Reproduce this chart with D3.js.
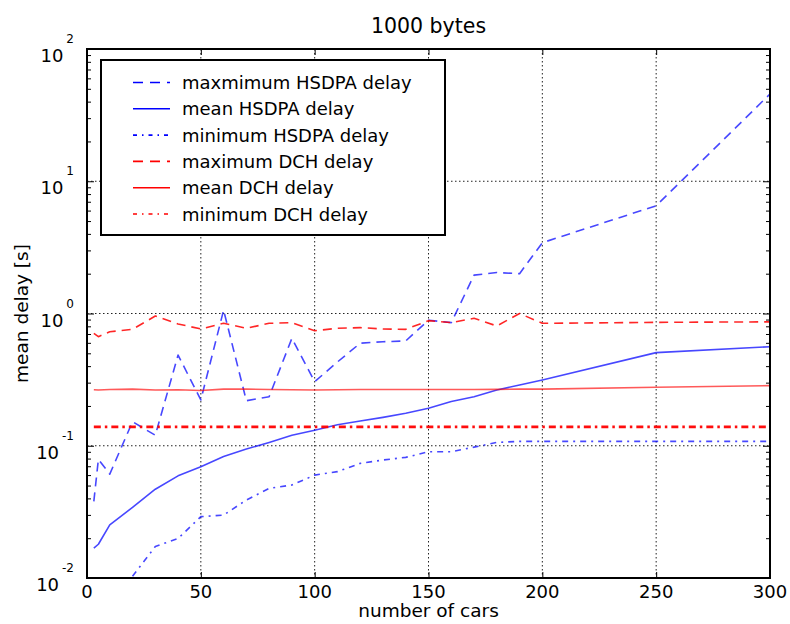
<!DOCTYPE html>
<html>
<head>
<meta charset="utf-8">
<script src="https://cdn.jsdelivr.net/npm/d3@7"></script>
<style>
  body { margin: 0; background: #fff; }
  text { font-family: "DejaVu Sans", sans-serif; fill: #000; }
</style>
</head>
<body>
<svg id="chart" width="790" height="624"></svg>
<script>
// Number of cars on the road (x values)
const cars = [3, 5, 10, 20, 30, 40, 50, 60, 70, 80, 90, 100, 110, 120, 130, 140, 150, 160, 170, 180, 190, 200, 250, 300];

// HSDPA delay statistics [s]
const maxHSDPA  = [0.038, 0.079, 0.061, 0.152, 0.120, 0.485, 0.222, 1.06, 0.219, 0.235, 0.649, 0.305, 0.43, 0.596, 0.612, 0.62, 0.89, 0.853, 1.95, 2.04, 2.0, 3.43, 6.53, 45.7];
const meanHSDPA = [0.0168, 0.018, 0.0252, 0.0342, 0.0469, 0.0592, 0.0695, 0.0828, 0.0944, 0.106, 0.120, 0.131, 0.144, 0.154, 0.164, 0.176, 0.192, 0.216, 0.235, 0.264, 0.288, 0.314, 0.506, 0.561];
const minHSDPA  = [null, null, null, 0.0103, 0.0173, 0.0199, 0.0291, 0.0299, 0.0389, 0.0476, 0.0505, 0.060, 0.0637, 0.0736, 0.078, 0.0817, 0.0901, 0.0901, 0.0976, 0.106, 0.108, 0.108, 0.108, 0.108];

// DCH delay statistics [s]
const maxDCH  = [0.708, 0.668, 0.728, 0.759, 0.957, 0.834, 0.764, 0.843, 0.773, 0.843, 0.853, 0.741, 0.773, 0.782, 0.764, 0.759, 0.883, 0.853, 0.92, 0.805, 1.0, 0.843, 0.857, 0.865];
const meanDCH = [0.265, 0.264, 0.266, 0.268, 0.264, 0.265, 0.262, 0.268, 0.268, 0.266, 0.265, 0.264, 0.265, 0.266, 0.266, 0.266, 0.266, 0.266, 0.266, 0.267, 0.268, 0.268, 0.277, 0.285];
const minDCH  = [0.139, 0.139, 0.139, 0.139, 0.139, 0.139, 0.139, 0.139, 0.139, 0.139, 0.139, 0.139, 0.139, 0.139, 0.139, 0.139, 0.139, 0.139, 0.139, 0.139, 0.139, 0.139, 0.139, 0.139];

const xTicks = [0, 50, 100, 150, 200, 250, 300];
const yDecades = [-2, -1, 0, 1, 2];

const seriesNames = ["maxmimum HSDPA delay", "mean HSDPA delay", "minimum HSDPA delay",
                     "maximum DCH delay", "mean DCH delay", "minimum DCH delay"];

const titleText = "1000 bytes";
const xLabel = "number of cars";
const yLabel = "mean delay [s]";

// Layout
const plotL = 87, plotR = 770, plotT = 49, plotB = 578;
const svg = d3.select("#chart");

const x = d3.scaleLinear().domain([0, 300]).range([plotL, plotR]);
const y = d3.scaleLog().domain([0.01, 100]).range([plotB, plotT]);

// Line styles
const styles = [
  { color: "#0000ff", dash: "9,6",        width: 1.6, op: 0.72, legDash: "10,7" },
  { color: "#0000ff", dash: null,         width: 1.6, op: 0.72, legDash: null },
  { color: "#0000ff", dash: "6,5,2,5",    width: 1.6, op: 0.72, legDash: "4,5,1.5,5" },
  { color: "#ff0000", dash: "9,6",        width: 1.6, op: 0.85, legDash: "10,7" },
  { color: "#ff0000", dash: null,         width: 1.6, op: 0.65, legDash: null },
  { color: "#ff0000", dash: "7,4,2.5,4",  width: 2.6, op: 0.95, legDash: "4,5,1.5,5" }
];
const seriesData = [maxHSDPA, meanHSDPA, minHSDPA, maxDCH, meanDCH, minDCH];

// Grid lines (dotted) at major ticks
const grid = svg.append("g");
xTicks.filter(t => t > 0 && t < 300).forEach(t => {
  grid.append("line")
    .attr("x1", x(t)).attr("x2", x(t)).attr("y1", plotT).attr("y2", plotB)
    .attr("stroke", "#222").attr("stroke-width", 1).attr("stroke-dasharray", "1.5,2.5");
});
yDecades.filter(d => d > -2 && d < 2).forEach(d => {
  grid.append("line")
    .attr("x1", plotL).attr("x2", plotR).attr("y1", y(Math.pow(10, d))).attr("y2", y(Math.pow(10, d)))
    .attr("stroke", "#222").attr("stroke-width", 1).attr("stroke-dasharray", "1.5,2.5");
});

// Data lines
svg.append("clipPath").attr("id", "plotClip")
  .append("rect").attr("x", plotL).attr("y", plotT).attr("width", plotR - plotL).attr("height", plotB - plotT);

const plot = svg.append("g").attr("clip-path", "url(#plotClip)");
const line = d3.line()
  .defined(d => d[1] != null)
  .x(d => x(d[0]))
  .y(d => y(d[1]));

seriesData.forEach((vals, i) => {
  const s = styles[i];
  plot.append("path")
    .datum(cars.map((c, j) => [c, vals[j]]))
    .attr("d", line)
    .attr("fill", "none")
    .attr("stroke", s.color)
    .attr("stroke-opacity", s.op)
    .attr("stroke-width", s.width)
    .attr("stroke-dasharray", s.dash)
    .attr("stroke-linejoin", "round");
});

// Axes with inward ticks on all four sides
const axisG = svg.append("g");
const yMinor = [];
for (let d = -2; d < 2; d++) {
  for (let k = 2; k <= 9; k++) yMinor.push(k * Math.pow(10, d));
}
const yMajor = yDecades.map(d => Math.pow(10, d));

axisG.append("g").attr("transform", `translate(0,${plotB})`)
  .call(d3.axisBottom(x).tickValues(xTicks).tickSize(-6).tickFormat(""))
  .call(g => g.select(".domain").remove());
axisG.append("g").attr("transform", `translate(0,${plotT})`)
  .call(d3.axisTop(x).tickValues(xTicks).tickSize(-6).tickFormat(""))
  .call(g => g.select(".domain").remove());
axisG.append("g").attr("transform", `translate(${plotL},0)`)
  .call(d3.axisLeft(y).tickValues(yMajor).tickSize(-7).tickFormat(""))
  .call(g => g.select(".domain").remove());
axisG.append("g").attr("transform", `translate(${plotL},0)`)
  .call(d3.axisLeft(y).tickValues(yMinor).tickSize(-4).tickFormat(""))
  .call(g => g.select(".domain").remove());
axisG.append("g").attr("transform", `translate(${plotR},0)`)
  .call(d3.axisRight(y).tickValues(yMajor).tickSize(-7).tickFormat(""))
  .call(g => g.select(".domain").remove());
axisG.append("g").attr("transform", `translate(${plotR},0)`)
  .call(d3.axisRight(y).tickValues(yMinor).tickSize(-4).tickFormat(""))
  .call(g => g.select(".domain").remove());
axisG.selectAll(".tick line").attr("stroke", "#000").attr("stroke-width", 1);

// Frame
svg.append("rect")
  .attr("x", plotL).attr("y", plotT).attr("width", plotR - plotL).attr("height", plotB - plotT)
  .attr("fill", "none").attr("stroke", "#000").attr("stroke-width", 2);

// X tick labels
svg.append("g").selectAll("text").data(xTicks).join("text")
  .attr("x", d => x(d)).attr("y", 598)
  .attr("text-anchor", "middle").attr("font-size", 18)
  .text(d => d);

// Y tick labels: 10 with superscript exponent
const yl = svg.append("g").selectAll("text").data(yDecades).join("text")
  .attr("x", 74).attr("y", d => y(Math.pow(10, d)) + 13)
  .attr("text-anchor", "end").attr("font-size", 18);
yl.append("tspan").text("10");
yl.append("tspan").attr("dx", 3).attr("dy", -19).attr("font-size", 12).text(d => d);

// Title and axis labels
svg.append("text").attr("x", x(150)).attr("y", 33).attr("text-anchor", "middle")
  .attr("font-size", 20.5).text(titleText);
svg.append("text").attr("x", x(150)).attr("y", 617).attr("text-anchor", "middle")
  .attr("font-size", 18.5).text(xLabel);
svg.append("text").attr("transform", `translate(28,${(plotT + plotB) / 2}) rotate(-90)`)
  .attr("text-anchor", "middle").attr("font-size", 18.5).text(yLabel);

// Legend
const lg = svg.append("g");
lg.append("rect").attr("x", 101).attr("y", 60).attr("width", 344).attr("height", 175)
  .attr("fill", "#fff").attr("stroke", "#000").attr("stroke-width", 2);
seriesNames.forEach((name, i) => {
  const s = styles[i];
  const ry = 82.5 + i * 26.3;
  lg.append("line").attr("x1", 133).attr("x2", 170).attr("y1", ry).attr("y2", ry)
    .attr("stroke", s.color).attr("stroke-width", 1.6)
    .attr("stroke-dasharray", s.legDash);
  lg.append("text").attr("x", 182).attr("y", ry + 6.5).attr("font-size", 18).text(name);
});
</script>
</body>
</html>
